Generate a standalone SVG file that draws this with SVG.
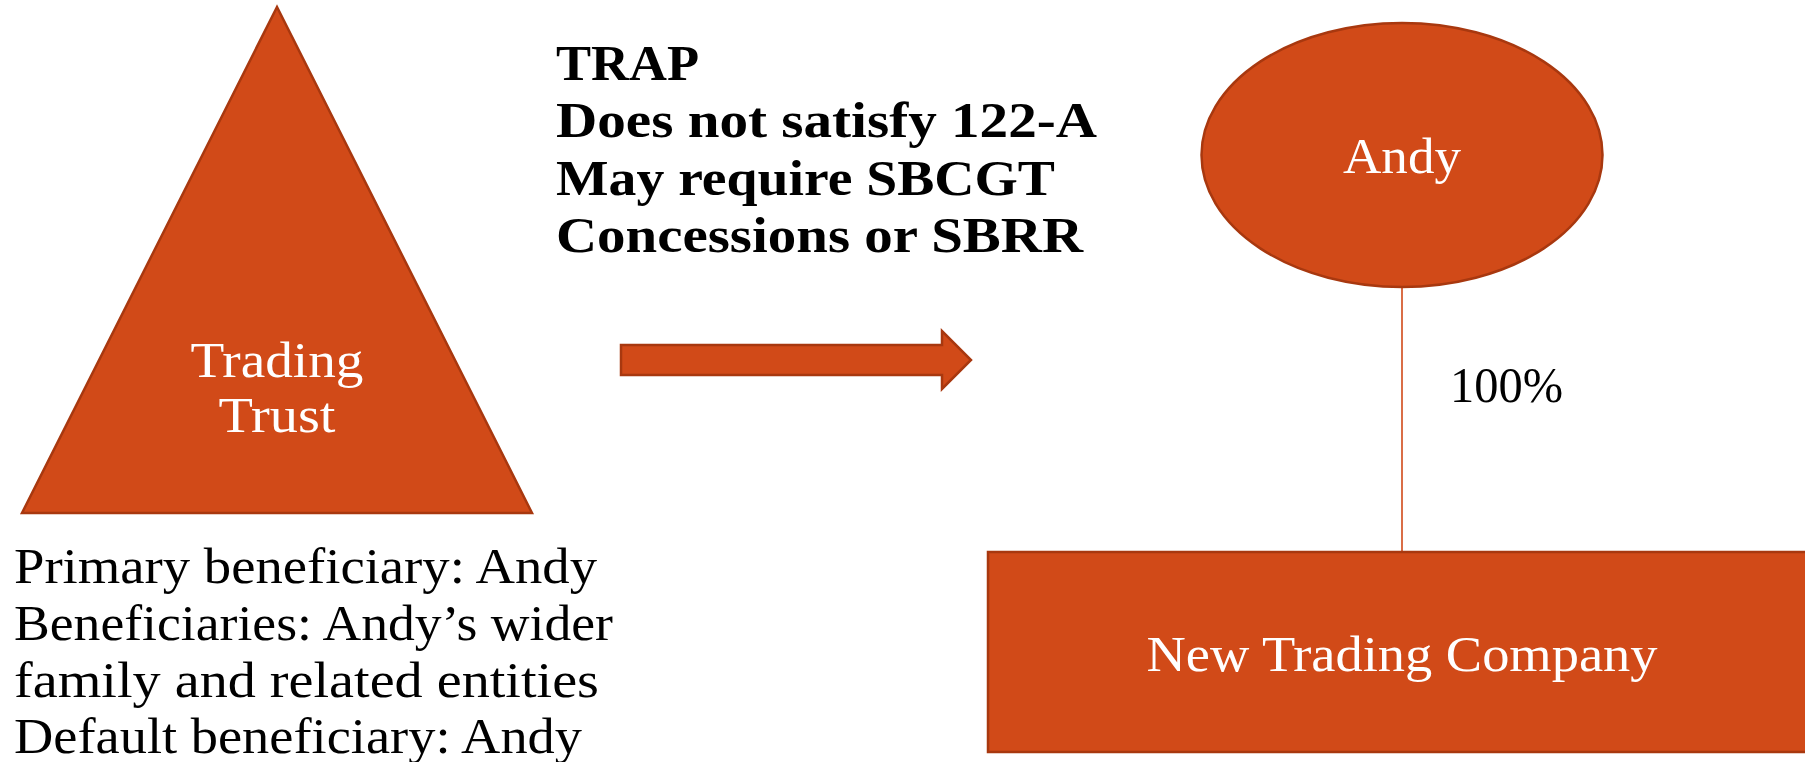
<svg xmlns="http://www.w3.org/2000/svg" width="1805" height="762" viewBox="0 0 1805 762">
  <style>
    .shape { fill: #D14A18; stroke: #A8380F; stroke-width: 2.5; }
    .label { font-family: "Liberation Serif", "Times New Roman", serif; font-size: 50px; fill: #ffffff; }
    .note { font-family: "Liberation Serif", "Times New Roman", serif; font-size: 50px; fill: #000000; }
    .warn { font-family: "Liberation Serif", "Times New Roman", serif; font-size: 51px; font-weight: bold; fill: #000000; }
    .link { stroke: #D14A18; stroke-width: 1.6; fill: none; }
  </style>
  <rect width="1805" height="762" fill="#ffffff"/>

  <!-- Trading trust -->
  <g id="trading-trust">
    <polygon class="shape" points="277,7 22,513 532,513"/>
    <text class="label" x="277" y="377" text-anchor="middle" textLength="173" lengthAdjust="spacingAndGlyphs">Trading</text>
    <text class="label" x="277" y="432" text-anchor="middle" textLength="117" lengthAdjust="spacingAndGlyphs">Trust</text>
  </g>

  <!-- Beneficiary notes under the trust -->
  <g id="beneficiaries">
    <text class="note" x="14" y="583" textLength="583" lengthAdjust="spacingAndGlyphs">Primary beneficiary: Andy</text>
    <text class="note" x="14" y="640" textLength="599" lengthAdjust="spacingAndGlyphs">Beneficiaries: Andy’s wider</text>
    <text class="note" x="14" y="697" textLength="585" lengthAdjust="spacingAndGlyphs">family and related entities</text>
    <text class="note" x="14" y="753" textLength="568" lengthAdjust="spacingAndGlyphs">Default beneficiary: Andy</text>
  </g>

  <!-- Warning text -->
  <g id="trap-note">
    <text class="warn" x="556" y="80" textLength="143" lengthAdjust="spacingAndGlyphs">TRAP</text>
    <text class="warn" x="556" y="137" textLength="541" lengthAdjust="spacingAndGlyphs">Does not satisfy 122-A</text>
    <text class="warn" x="556" y="195" textLength="499" lengthAdjust="spacingAndGlyphs">May require SBCGT</text>
    <text class="warn" x="556" y="252" textLength="527" lengthAdjust="spacingAndGlyphs">Concessions or SBRR</text>
  </g>

  <!-- Block arrow -->
  <g id="transition-arrow">
    <polygon class="shape" stroke-width="1.5" points="621,345 942,345 942,331 971,360 942,389 942,375 621,375"/>
  </g>

  <!-- Connectors -->
  <g id="connectors">
    <line class="link" x1="1402" y1="287" x2="1402" y2="552"/>
    <text class="note" x="1450" y="402" textLength="113" lengthAdjust="spacingAndGlyphs">100%</text>
  </g>

  <!-- Andy -->
  <g id="andy">
    <ellipse class="shape" cx="1402" cy="155" rx="200.5" ry="132"/>
    <text class="label" x="1402" y="173" text-anchor="middle" textLength="118" lengthAdjust="spacingAndGlyphs">Andy</text>
  </g>

  <!-- New trading company -->
  <g id="new-trading-company">
    <rect class="shape" x="988" y="552" width="830" height="200"/>
    <text class="label" x="1402" y="671" text-anchor="middle" textLength="511" lengthAdjust="spacingAndGlyphs">New Trading Company</text>
  </g>
</svg>
